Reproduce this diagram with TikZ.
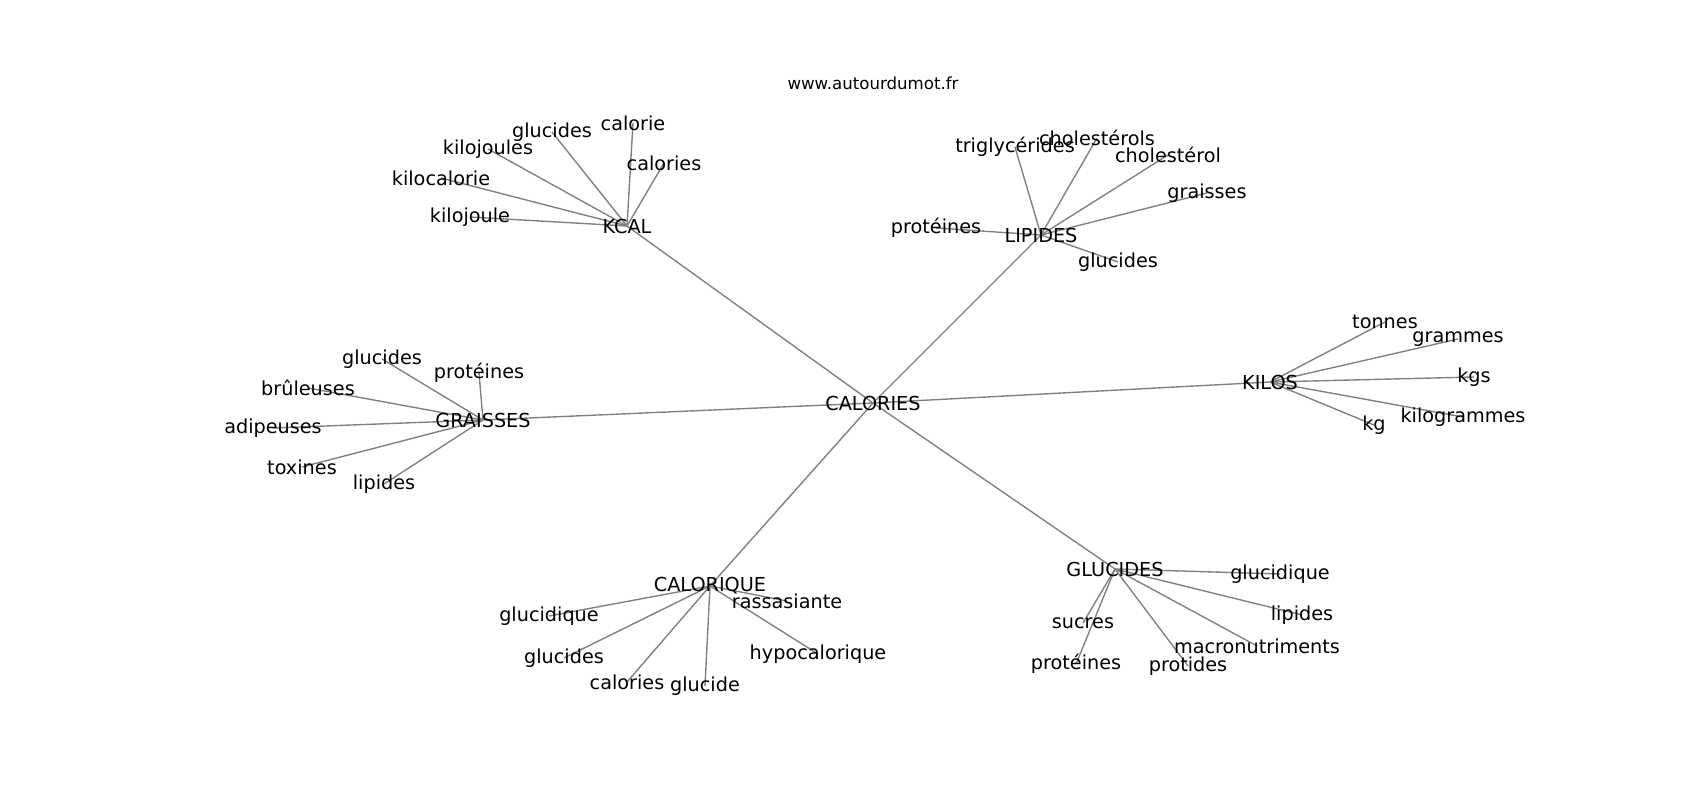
\documentclass[tikz,border=0pt]{standalone}
\usepackage{fontspec}
\setmainfont{DejaVu Sans}
\usetikzlibrary{backgrounds}
\begin{document}
\begin{tikzpicture}[x=0.01in, y=-0.01in,
    word/.style={inner sep=0pt, font=\fontsize{13.9}{16}\selectfont},
    link/.style={draw=gray, line width=1pt}]
    \useasboundingbox (0,0) rectangle (1700,800);
    \node[inner sep=0pt, font=\fontsize{12}{14}\selectfont] (title) at (873,83) {www.autourdumot.fr};
    % centre
    \node[word] (calories) at (873,403) {CALORIES};
    \node[word] (kcal) at (627,226) {KCAL};
    \node[word] (lipides) at (1041,235) {LIPIDES};
    \node[word] (graisses) at (483,420) {GRAISSES};
    \node[word] (kilos) at (1270,382) {KILOS};
    \node[word] (calorique) at (710,586) {CALORIQUE};
    \node[word] (glucides) at (1115,569) {GLUCIDES};
    % KCAL
    \node[word] (k1) at (633,123) {calorie};
    \node[word] (k2) at (552,132) {glucides};
    \node[word] (k3) at (488,149) {kilojoules};
    \node[word] (k4) at (441,178) {kilocalorie};
    \node[word] (k5) at (470,217) {kilojoule};
    \node[word] (k6) at (664,163) {calories};
    % LIPIDES
    \node[word] (l1) at (1015,147) {triglycérides};
    \node[word] (l2) at (1097,138) {cholestérols};
    \node[word] (l3) at (1168,155) {cholestérol};
    \node[word] (l4) at (1207,193) {graisses};
    \node[word] (l5) at (936,228) {protéines};
    \node[word] (l6) at (1118,262) {glucides};
    % GRAISSES
    \node[word] (g1) at (382,359) {glucides};
    \node[word] (g2) at (479,373) {protéines};
    \node[word] (g3) at (308,388) {brûleuses};
    \node[word] (g4) at (273,428) {adipeuses};
    \node[word] (g5) at (302,467) {toxines};
    \node[word] (g6) at (384,484) {lipides};
    % KILOS
    \node[word] (s1) at (1385,322) {tonnes};
    \node[word] (s2) at (1458,339) {grammes};
    \node[word] (s3) at (1474,377) {kgs};
    \node[word] (s4) at (1463,417) {kilogrammes};
    \node[word] (s5) at (1374,425) {kg};
    % CALORIQUE
    \node[word] (q1) at (549,616) {glucidique};
    \node[word] (q2) at (787,601) {rassasiante};
    \node[word] (q3) at (564,658) {glucides};
    \node[word] (q4) at (818,654) {hypocalorique};
    \node[word] (q5) at (627,682) {calories};
    \node[word] (q6) at (705,686) {glucide};
    % GLUCIDES
    \node[word] (u1) at (1280,574) {glucidique};
    \node[word] (u2) at (1302,615) {lipides};
    \node[word] (u3) at (1083,623) {sucres};
    \node[word] (u4) at (1257,646) {macronutriments};
    \node[word] (u5) at (1076,664) {protéines};
    \node[word] (u6) at (1188,666) {protides};
    \begin{scope}[on background layer]
    \path (calories.center) edge[link] (kcal.center);
    \path (calories.center) edge[link] (lipides.center);
    \path (calories.center) edge[link] (graisses.center);
    \path (calories.center) edge[link] (kilos.center);
    \path (calories.center) edge[link] (calorique.center);
    \path (calories.center) edge[link] (glucides.center);
    \path (kcal.center) edge[link] (k1.center);
    \path (kcal.center) edge[link] (k2.center);
    \path (kcal.center) edge[link] (k3.center);
    \path (kcal.center) edge[link] (k4.center);
    \path (kcal.center) edge[link] (k5.center);
    \path (kcal.center) edge[link] (k6.center);
    \path (lipides.center) edge[link] (l1.center);
    \path (lipides.center) edge[link] (l2.center);
    \path (lipides.center) edge[link] (l3.center);
    \path (lipides.center) edge[link] (l4.center);
    \path (lipides.center) edge[link] (l5.center);
    \path (lipides.center) edge[link] (l6.center);
    \path (graisses.center) edge[link] (g1.center);
    \path (graisses.center) edge[link] (g2.center);
    \path (graisses.center) edge[link] (g3.center);
    \path (graisses.center) edge[link] (g4.center);
    \path (graisses.center) edge[link] (g5.center);
    \path (graisses.center) edge[link] (g6.center);
    \path (kilos.center) edge[link] (s1.center);
    \path (kilos.center) edge[link] (s2.center);
    \path (kilos.center) edge[link] (s3.center);
    \path (kilos.center) edge[link] (s4.center);
    \path (kilos.center) edge[link] (s5.center);
    \path (calorique.center) edge[link] (q1.center);
    \path (calorique.center) edge[link] (q2.center);
    \path (calorique.center) edge[link] (q3.center);
    \path (calorique.center) edge[link] (q4.center);
    \path (calorique.center) edge[link] (q5.center);
    \path (calorique.center) edge[link] (q6.center);
    \path (glucides.center) edge[link] (u1.center);
    \path (glucides.center) edge[link] (u2.center);
    \path (glucides.center) edge[link] (u3.center);
    \path (glucides.center) edge[link] (u4.center);
    \path (glucides.center) edge[link] (u5.center);
    \path (glucides.center) edge[link] (u6.center);
    \end{scope}
\end{tikzpicture}
\end{document}
